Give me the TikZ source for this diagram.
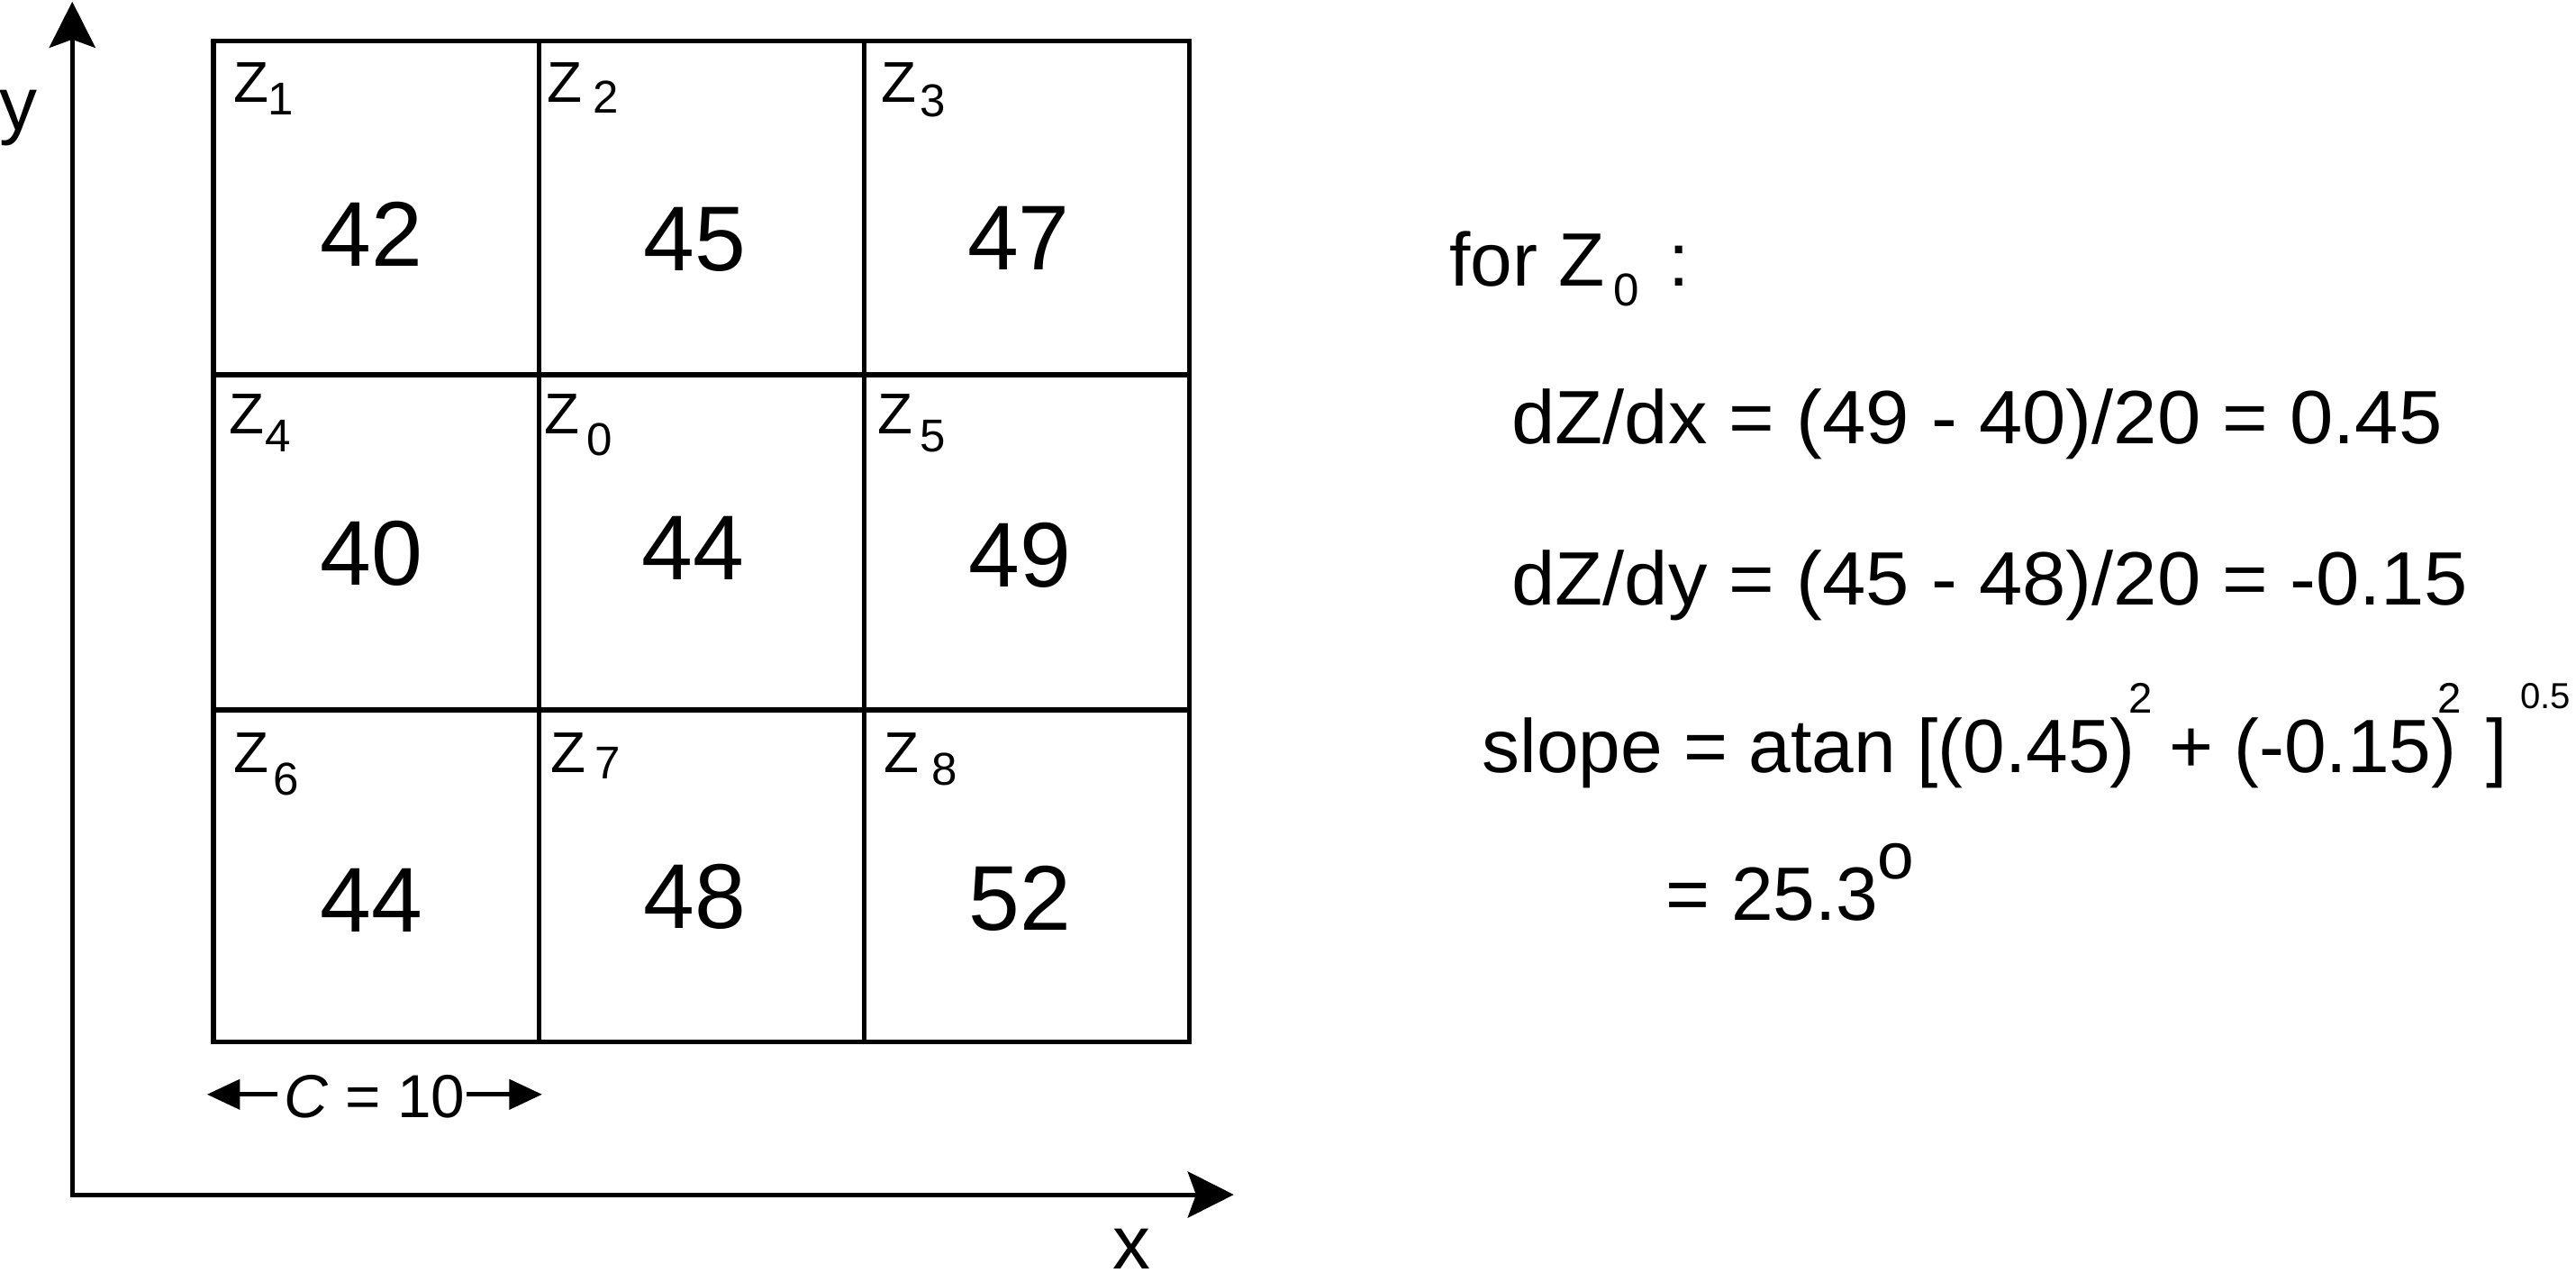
\documentclass[tikz,border=0pt]{standalone}
\usepackage{fontspec}
\setmainfont{Liberation Sans}
\newfontfamily\widefont[FakeStretch=1.035]{Liberation Sans}
\usetikzlibrary{arrows.meta}
\begin{document}
\begin{tikzpicture}[x=1pt,y=-1pt,
  gridline/.style={line width=3pt},
  axis/.style={line width=2.8pt,{Stealth[length=28pt,width=28pt,inset=5pt]}-{Stealth[length=28pt,width=28pt,inset=5pt]}},
  dimarrow/.style={line width=2.7pt,-{Triangle[length=20pt,width=18pt]}},
  zlab/.style={anchor=base,inner sep=0pt,font=\fontsize{35}{40}\selectfont},
  zsub/.style={anchor=base,inner sep=0pt,font=\fontsize{28}{32}\selectfont},
  val/.style={anchor=base,inner sep=0pt,font=\fontsize{56}{60}\selectfont},
  eq/.style={anchor=base west,inner sep=0pt,font=\fontsize{46}{50}\selectfont},
  weq/.style={anchor=base west,inner sep=0pt,font=\widefont\fontsize{46}{50}\selectfont},
  supr/.style={anchor=base,inner sep=0pt,font=\fontsize{26}{30}\selectfont},
  axlab/.style={anchor=base,inner sep=0pt,font=\fontsize{46}{50}\selectfont}
]
\useasboundingbox (0,0) rectangle (1568,780);

% grid
\draw[gridline] (130,25) rectangle (724,634);
\draw[gridline] (328,25) -- (328,634);
\draw[gridline] (526,25) -- (526,634);
\draw[gridline] (130,228) -- (724,228);
\draw[gridline] (130,432) -- (724,432);

% axes
\coordinate (O) at (44,727);
\coordinate (ytip) at (44,1);
\coordinate (xtip) at (751,727);
\draw[axis] (ytip) -- (O) -- (xtip);
\node[axlab] (ylab) at (11,79) {y};
\node[axlab] (xlab) at (689,772) {x};

% cell labels
\node[zlab] (z1) at (153,62) {Z};  \node[zsub] (s1) at (171,70) {1};
\node[zlab] (z2) at (344,62) {Z};  \node[zsub] (s2) at (369,69) {2};
\node[zlab] (z3) at (547,62) {Z};  \node[zsub] (s3) at (568,71) {3};
\node[zlab] (z4) at (150,264) {Z}; \node[zsub] (s4) at (169,275) {4};
\node[zlab] (z0) at (342,264) {Z}; \node[zsub] (s0) at (365,277) {0};
\node[zlab] (z5) at (545,264) {Z}; \node[zsub] (s5) at (568,275) {5};
\node[zlab] (z6) at (153,470) {Z}; \node[zsub] (s6) at (174,484) {6};
\node[zlab] (z7) at (346,470) {Z}; \node[zsub] (s7) at (370,474) {7};
\node[zlab] (z8) at (549,470) {Z}; \node[zsub] (s8) at (575,478) {8};

% cell values
\node[val] (v1) at (226,162) {42};
\node[val] (v2) at (423,165) {45};
\node[val] (v3) at (620,164) {47};
\node[val] (v4) at (226,356) {40};
\node[val] (v0) at (422,353) {44};
\node[val] (v5) at (621,357) {49};
\node[val] (v6) at (226,567) {44};
\node[val] (v7) at (423,565) {48};
\node[val] (v8) at (621,566) {52};

% cell size
\coordinate (cl) at (169,666);
\coordinate (cla) at (126,666);
\coordinate (cr) at (284,666);
\coordinate (cra) at (330,666);
\node[anchor=base,inner sep=0pt,font=\fontsize{37}{40}\selectfont] (csize) at (228,680) {{\itshape C} = 10};
\draw[dimarrow] (cl) -- (cla);
\draw[dimarrow] (cr) -- (cra);

% equations
\node[eq] (for) at (882,174) {for Z};
\node[zsub] (fors) at (990,186) {0};
\node[eq,anchor=base] (colon) at (1022,174) {:};
\node[weq] (dx) at (920,270) {dZ/dx = (49 - 40)/20 = 0.45};
\node[weq] (dy) at (920,368) {dZ/dy = (45 - 48)/20 = -0.15};
\node[eq] (sl1) at (902,470) {slope = atan [(0.45)};
\node[supr] (sq1) at (1303,434) {2};
\node[eq] (sl2) at (1320,470) {+ (-0.15)};
\node[supr] (sq2) at (1491,434) {2};
\node[eq,anchor=base] (br) at (1520,470) {]};
\node[anchor=base west,inner sep=0pt,font=\fontsize{22}{26}\selectfont] (half) at (1534,431) {0.5};
\node[eq] (res) at (1014,560) {= 25.3};
\node[anchor=base,inner sep=0pt,font=\fontsize{40}{44}\selectfont] (deg) at (1154,535) {o};
\end{tikzpicture}
\end{document}
